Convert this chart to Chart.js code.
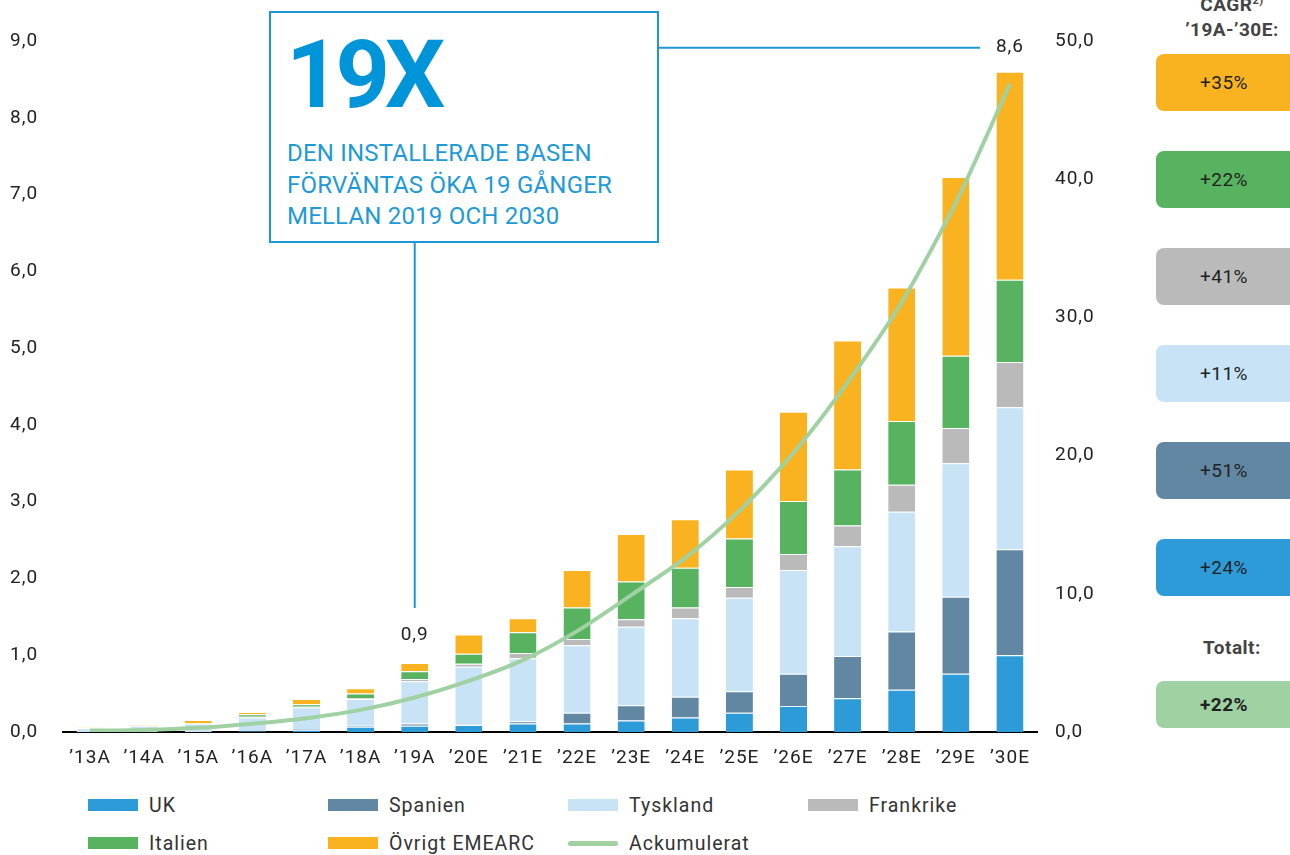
<!DOCTYPE html>
<html><head><meta charset="utf-8">
<script src="https://cdn.jsdelivr.net/npm/chart.js@4/dist/chart.umd.min.js"></script>
<style>
html,body{margin:0;padding:0;background:#fff;overflow:hidden;width:1290px;height:855px;}
body{position:relative;font-family:Roboto,"DejaVu Sans",sans-serif;}
#wrap{position:absolute;left:0;top:0;width:1140px;height:780px;}
.box{position:absolute;left:269px;top:11px;width:390px;height:232px;border:2px solid #1C96D5;box-sizing:border-box;background:#fff;}
.big{position:absolute;left:286px;top:27px;font-size:95px;line-height:95px;font-weight:700;color:#0094D9;letter-spacing:-5px;white-space:nowrap;}
.sub{position:absolute;left:287px;font-size:24px;line-height:31.5px;color:#1E9AD6;white-space:nowrap;letter-spacing:0.2px;}
.hd{position:absolute;left:1160px;width:144px;text-align:center;font-weight:700;font-size:19px;line-height:20px;color:#444;white-space:nowrap;letter-spacing:0.5px;}
.hd sup{font-size:11px;vertical-align:7px;}
.cb{position:absolute;left:1156px;width:150px;border-radius:8px;display:flex;align-items:center;justify-content:center;box-sizing:border-box;padding-right:14px;font-size:19px;color:#222;letter-spacing:0.5px;}
.lg{position:absolute;display:flex;align-items:center;font-size:19.5px;color:#333;letter-spacing:1px;white-space:nowrap;height:24px;}
.sw{width:50px;height:12px;margin-right:11px;}
.swl{width:50px;height:5px;border-radius:3px;margin-right:11px;}
</style>
</head><body>
<div id="wrap"><canvas id="c" width="1140" height="780"></canvas></div>
<div class="box"></div>
<div class="big">19X</div>
<div class="sub" style="top:138px">DEN INSTALLERADE BASEN</div>
<div class="sub" style="top:169.5px">FÖRVÄNTAS ÖKA 19 GÅNGER</div>
<div class="sub" style="top:201px">MELLAN 2019 OCH 2030</div>
<div class="hd" style="top:-9px">CAGR<sup>2)</sup></div>
<div class="hd" style="top:20px">’19A-’30E:</div>
<div id="cagr"></div>
<div id="legend"></div>
<script>
// ---- data ----
const categories = ["’13A","’14A","’15A","’16A","’17A","’18A","’19A","’20E","’21E","’22E","’23E","’24E","’25E","’26E","’27E","’28E","’29E","’30E"];
const ukValues        = [0.00,0.00,0.00,0.01,0.03,0.07,0.08,0.09,0.11,0.11,0.15,0.19,0.25,0.34,0.44,0.55,0.76,1.00];
const spanienValues   = [0.00,0.00,0.00,0.00,0.01,0.01,0.03,0.01,0.03,0.14,0.20,0.27,0.28,0.42,0.55,0.76,1.00,1.38];
const tysklandValues  = [0.05,0.08,0.11,0.18,0.28,0.35,0.55,0.75,0.82,0.88,1.02,1.02,1.22,1.35,1.43,1.56,1.74,1.85];
const frankrikeValues = [0.00,0.00,0.00,0.01,0.01,0.01,0.03,0.04,0.07,0.08,0.10,0.14,0.14,0.21,0.27,0.35,0.46,0.59];
const italienValues   = [0.00,0.00,0.005,0.03,0.03,0.06,0.10,0.13,0.27,0.41,0.49,0.52,0.63,0.69,0.73,0.83,0.94,1.07];
const ovrigtValues    = [0.01,0.01,0.04,0.03,0.07,0.07,0.11,0.25,0.18,0.49,0.62,0.63,0.90,1.16,1.68,1.74,2.33,2.71];
const ackumuleratValues = [0.1,0.15,0.3,0.6,1.0,1.6,2.5,3.7,5.2,7.3,9.9,12.6,16.0,20.2,25.3,31.1,38.3,46.9];
const leftTicks = [0,1,2,3,4,5,6,7,8,9];
const rightTicks = [0,10,20,30,40,50];
const calloutIndex = [6, 17];
const calloutText = ["0,9", "8,6"];
const cagrLabels = ["+35%","+22%","+41%","+11%","+51%","+24%"];
const cagrTotal = "+22%";
const seriesNames = ["UK","Spanien","Tyskland","Frankrike","Italien","Övrigt EMEARC","Ackumulerat"];

// ---- styles ----
const colors = ["#2E9BD9","#6287A3","#C7E3F5","#BABABA","#57B360","#F9B320","#A0D1A3"];
const seriesData = [ukValues,spanienValues,tysklandValues,frankrikeValues,italienValues,ovrigtValues];

const datasets = [{
  type:'line', label:seriesNames[6], data:ackumuleratValues, yAxisID:'y1',
  borderColor:colors[6], borderWidth:4, pointRadius:0, tension:0.25, order:0, fill:false
}];
seriesData.forEach((d,i)=>datasets.push({
  type:'bar', label:seriesNames[i], data:d, yAxisID:'y', stack:'s',
  backgroundColor:colors[i], borderColor:'rgba(255,255,255,0.75)',
  borderWidth:{top:1,left:0,right:0,bottom:0}, borderSkipped:'start',
  barPercentage:0.5, categoryPercentage:1.0, order:1
}));

const fmt = v => Number(v).toFixed(1).replace('.', ',');
const tickFont = {family:'Roboto', size:19};

const spacing = {id:'spacing',
  beforeUpdate(chart){ chart.ctx.letterSpacing='1px'; },
  beforeDraw(chart){ chart.ctx.letterSpacing='1px'; }
};

const annot = {id:'annot', afterDatasetsDraw(chart){
  const {ctx, scales:{x,y}} = chart;
  const offsets = [28, 24];
  ctx.save();
  ctx.letterSpacing='1px';
  ctx.font = '19px Roboto';
  ctx.fillStyle = '#222';
  ctx.textAlign = 'center';
  ctx.textBaseline = 'middle';
  const pts = calloutIndex.map((idx,k)=>{
    const total = seriesData.reduce((s,arr)=>s+arr[idx],0);
    const px = x.getPixelForValue(idx);
    const py = y.getPixelForValue(total) - offsets[k];
    ctx.fillText(calloutText[k], px, py);
    return {px,py};
  });
  ctx.strokeStyle = '#1C96D5';
  ctx.lineWidth = 2;
  ctx.beginPath();
  ctx.moveTo(pts[0].px, 242);
  ctx.lineTo(pts[0].px, pts[0].py - 27);
  ctx.moveTo(658, pts[1].py);
  ctx.lineTo(pts[1].px - 30, pts[1].py);
  ctx.stroke();
  ctx.restore();
}};

new Chart(document.getElementById('c'), {
  data:{labels:categories, datasets},
  options:{
    responsive:false, animation:false,
    layout:{padding:{left:10, top:41, right:0, bottom:0}},
    plugins:{legend:{display:false}, tooltip:{enabled:false}},
    scales:{
      x:{stacked:true, offset:true,
        grid:{display:false, drawTicks:false},
        border:{display:true, color:'#000', width:2},
        ticks:{color:'#222', font:tickFont, padding:15, maxRotation:0, autoSkip:false},
        afterFit(s){ s.height = 48; }},
      y:{stacked:true, position:'left', min:0, max:9,
        afterBuildTicks(s){ s.ticks = leftTicks.map(v=>({value:v})); },
        ticks:{crossAlign:'far', color:'#222', font:tickFont, padding:0, callback:fmt},
        grid:{display:false, drawTicks:false}, border:{display:false},
        afterFit(s){ s.width = 53; }},
      y1:{position:'right', min:0, max:50,
        afterBuildTicks(s){ s.ticks = rightTicks.map(v=>({value:v})); },
        ticks:{color:'#222', font:tickFont, padding:18, callback:fmt},
        grid:{display:false, drawTicks:false}, border:{display:false},
        afterFit(s){ s.width = 103; }}
    }
  },
  plugins:[spacing, annot]
});

// CAGR boxes
const cagrEl = document.getElementById('cagr');
const boxTops = [54,151,248,345,442,539];
cagrLabels.forEach((t,i)=>{
  const d = document.createElement('div');
  d.className='cb'; d.style.top=boxTops[i]+'px'; d.style.height='57px';
  d.style.background = colors[5-i]; d.textContent = t;
  cagrEl.appendChild(d);
});
const tl = document.createElement('div');
tl.className='hd'; tl.style.top='638px'; tl.textContent='Totalt:';
cagrEl.appendChild(tl);
const tb = document.createElement('div');
tb.className='cb'; tb.style.top='681px'; tb.style.height='47px';
tb.style.background = colors[6]; tb.style.fontWeight='700'; tb.textContent=cagrTotal;
cagrEl.appendChild(tb);

// legend
const legEl = document.getElementById('legend');
const legOrder = [0,1,2,3,4,5,6];
legOrder.forEach((si,k)=>{
  const col = k%4, row = Math.floor(k/4);
  const d = document.createElement('div');
  d.className='lg';
  d.style.left = (88 + col*240) + 'px';
  d.style.top = (793 + row*38) + 'px';
  const s = document.createElement('div');
  s.className = si===6 ? 'swl' : 'sw';
  s.style.background = colors[si];
  d.appendChild(s);
  d.appendChild(document.createTextNode(seriesNames[si]));
  legEl.appendChild(d);
});
</script>
</body></html>
